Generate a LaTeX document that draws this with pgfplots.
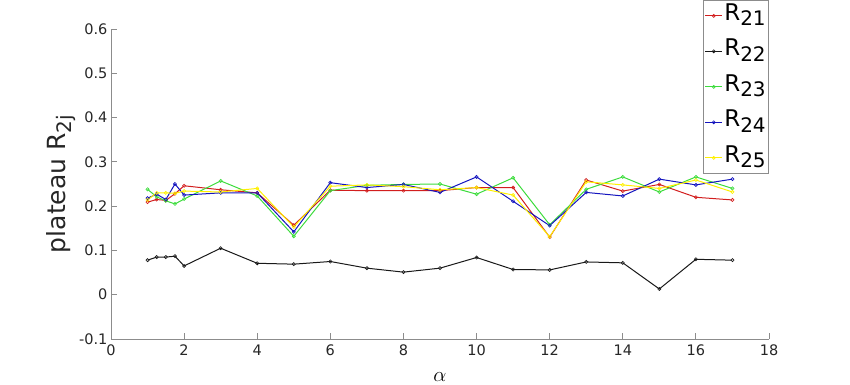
\documentclass[border=0pt]{standalone}
\usepackage{pgfplots}
\pgfplotsset{compat=1.18}
\usepackage{pgfplotstable}
\usepackage{fontspec}
\setmainfont{DejaVu Sans}
\definecolor{cR}{RGB}{210,30,30}
\definecolor{cK}{RGB}{25,25,25}
\definecolor{cG}{RGB}{60,220,60}
\definecolor{cB}{RGB}{20,20,190}
\definecolor{cY}{RGB}{255,240,0}
\definecolor{axg}{RGB}{140,140,140}
\definecolor{txt}{RGB}{38,38,38}
\newcommand\sub[1]{\raisebox{-0.42ex}{\fontsize{20}{20}\selectfont #1}}
\pgfplotstableread{
x     r21    r22    r23    r24    r25
1     0.209  0.078  0.238  0.218  0.214
1.25  0.215  0.085  0.221  0.227  0.230
1.5   0.213  0.085  0.212  0.215  0.230
1.75  0.228  0.087  0.205  0.250  0.229
2     0.246  0.065  0.216  0.225  0.234
3     0.237  0.105  0.257  0.230  0.232
4     0.230  0.071  0.223  0.230  0.240
5     0.157  0.069  0.132  0.142  0.153
6     0.236  0.075  0.235  0.253  0.245
7     0.235  0.060  0.247  0.242  0.248
8     0.235  0.051  0.249  0.249  0.244
9     0.235  0.060  0.250  0.231  0.237
10    0.242  0.084  0.227  0.266  0.242
11    0.242  0.057  0.264  0.211  0.225
12    0.130  0.056  0.158  0.156  0.131
13    0.259  0.074  0.238  0.231  0.255
14    0.234  0.072  0.266  0.223  0.248
15    0.249  0.013  0.232  0.261  0.240
16    0.220  0.080  0.266  0.248  0.259
17    0.214  0.078  0.240  0.261  0.232
}\datatab
\begin{document}
\begin{tikzpicture}
\begin{axis}[
  name=ax,
  scale only axis,
  width=658pt, height=310pt,
  xmin=0, xmax=18, ymin=-0.1, ymax=0.6,
  xtick={0,2,...,18},
  ytick={-0.1,0,0.1,0.2,0.3,0.4,0.5,0.6},
  yticklabels={-0.1,0,0.1,0.2,0.3,0.4,0.5,0.6},
  axis x line*=bottom, axis y line*=left,
  axis line style={axg, line width=0.8pt, -},
  tick align=inside,
  major tick length=6pt,
  tick style={axg, line width=0.8pt},
  /pgf/number format/assume math mode=true,
  ticklabel style={font=\fontsize{14.5}{17}\selectfont, text=txt},
  xticklabel style={yshift=-2.5pt},
  xlabel={$\alpha$},
  xlabel style={at={(axis description cs:0.5,-0.122)}, anchor=center, font=\fontsize{22}{24}\selectfont},
  ylabel={plateau R\sub{2j}},
  ylabel style={at={(axis description cs:-0.076,0.5)}, anchor=center, rotate=0, font=\fontsize{25}{28}\selectfont, text=txt},
  legend style={at={(axis description cs:1,1)}, yshift=29pt, anchor=north east,
    draw=axg, line width=0.6pt, font=\fontsize{23}{25}\selectfont, text=black,
    inner sep=1.5pt, row sep=7.5pt,
    nodes={inner sep=1.5pt, text height=17pt, text depth=8pt}},
  legend cell align=left,
  every axis plot/.append style={line width=1pt, mark=o, mark size=1.6pt, mark options={line width=0.6pt}},
]
\addplot[color=cR] table[x=x,y=r21] {\datatab};
\addlegendentry{R\sub{21}}
\addplot[color=cK] table[x=x,y=r22] {\datatab};
\addlegendentry{R\sub{22}}
\addplot[color=cG] table[x=x,y=r23] {\datatab};
\addlegendentry{R\sub{23}}
\addplot[color=cB] table[x=x,y=r24] {\datatab};
\addlegendentry{R\sub{24}}
\addplot[color=cY] table[x=x,y=r25] {\datatab};
\addlegendentry{R\sub{25}}
\end{axis}
\pgfresetboundingbox
\path ([shift={(-111pt,-45pt)}]ax.south west) rectangle ([shift={(739pt,339pt)}]ax.south west);
\end{tikzpicture}
\end{document}
